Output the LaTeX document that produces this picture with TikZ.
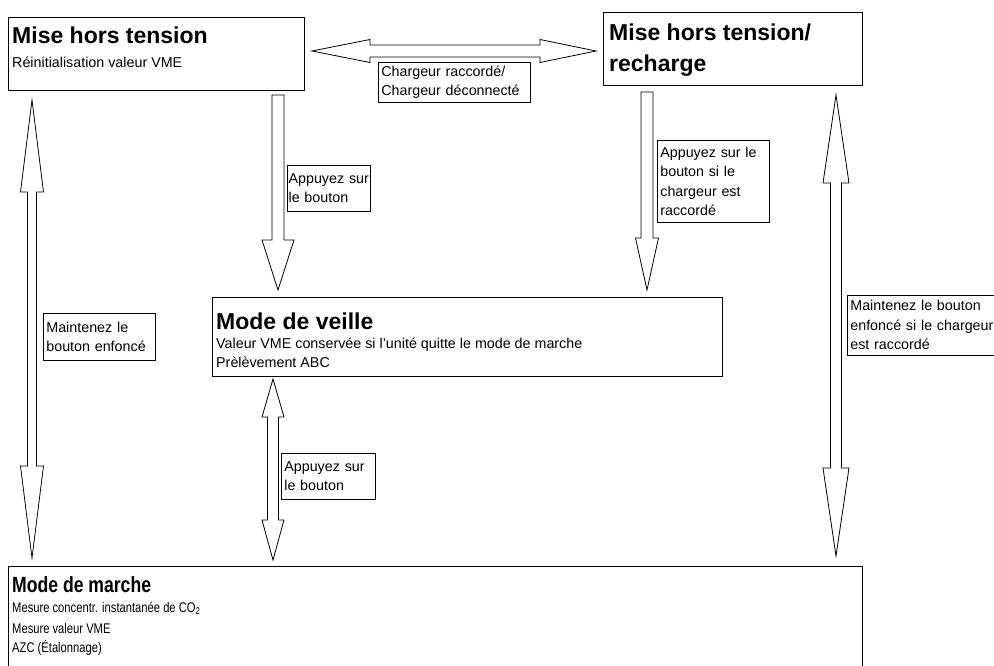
\documentclass[tikz,border=0pt]{standalone}
\usepackage{fontspec}
\setmainfont{Liberation Sans}
\newfontfamily\narrowfont[FakeStretch=0.8]{Liberation Sans}
\usetikzlibrary{calc}

\tikzset{
  statebox/.style={draw=black, line width=1.3pt, fill=white, anchor=north west, inner sep=0pt},
  labelbox/.style={draw=black, line width=0.7pt, fill=white, anchor=north west, align=left,
    inner xsep=3pt, inner ysep=0pt, font=\fontsize{14.3}{19.5}\selectfont},
  titletext/.style={anchor=base west, inner sep=0pt, font=\fontsize{23}{31}\selectfont\bfseries},
  bodytext/.style={anchor=base west, inner sep=0pt, font=\fontsize{14.3}{19.5}\selectfont},
  blockarrow/.style={draw=black, line width=0.8pt, fill=white, line join=miter},
}

\begin{document}
\begin{tikzpicture}[x=1pt, y=-1pt]
	\clip (0,0) rectangle (994,666);

	% Arrow ends
	\coordinate (hold1top) at (32,100);
	\coordinate (hold1bot) at (32,558);
	\coordinate (hold2top) at (836,95);
	\coordinate (hold2bot) at (836,556);
	\coordinate (chgleft) at (312,51);
	\coordinate (chgright) at (596,51);
	\coordinate (press1top) at (278,95);
	\coordinate (press1tip) at (278,290);
	\coordinate (press2top) at (647,92);
	\coordinate (press2tip) at (647,290);
	\coordinate (press3top) at (273,379);
	\coordinate (press3bot) at (273,560);

	% Draw block arrows
	\draw[blockarrow] (hold1top) -- ++(11.5,92) -- ++(-7,0) -- ($(hold1bot)+(4.5,-92)$) -- ++(7,0) -- (hold1bot)
		-- ++(-11.5,-92) -- ++(7,0) -- ($(hold1top)+(-4.5,92)$) -- ++(-7,0) -- cycle;
	\draw[blockarrow] (hold2top) -- ++(13,88) -- ++(-7.5,0) -- ($(hold2bot)+(5.5,-88)$) -- ++(7.5,0) -- (hold2bot)
		-- ++(-13,-88) -- ++(7.5,0) -- ($(hold2top)+(-5.5,88)$) -- ++(-7.5,0) -- cycle;
	\draw[blockarrow] (chgleft) -- ++(58,-11.5) -- ++(0,5.5) -- ($(chgright)+(-56,-6)$) -- ++(0,-5.5) -- (chgright)
		-- ++(-56,11.5) -- ++(0,-5.5) -- ($(chgleft)+(58,6)$) -- ++(0,5.5) -- cycle;
	\draw[blockarrow] ($(press1top)+(-6,0)$) -- ++(12,0) -- ($(press1tip)+(6,-50)$) -- ++(10,0) -- (press1tip)
		-- ++(-16,-50) -- ++(10,0) -- cycle;
	\draw[blockarrow] ($(press2top)+(-6,0)$) -- ++(12,0) -- ($(press2tip)+(6,-52)$) -- ++(5.5,0) -- (press2tip)
		-- ++(-11.5,-52) -- ++(5.5,0) -- cycle;
	\draw[blockarrow] (press3top) -- ++(11,38) -- ++(-5.5,0) -- ($(press3bot)+(5.5,-40)$) -- ++(5.5,0) -- (press3bot)
		-- ++(-11,-40) -- ++(5.5,0) -- ($(press3top)+(-5.5,38)$) -- ++(-5.5,0) -- cycle;

	% Arrow labels
	\node[labelbox, text width=146, minimum height=40] (lblchg) at (378,62) {Chargeur raccordé/\\Chargeur déconnecté};
	\node[labelbox, text width=80.5, inner xsep=1.25pt, minimum height=46] (lblpress1) at (287,165) {Appuyez sur\\le bouton};
	\node[labelbox, text width=106, minimum height=82] (lblpress2) at (657,140) {Appuyez sur le\\bouton si le\\chargeur est\\raccordé};
	\node[labelbox, text width=88, minimum height=46] (lblpress3) at (281,453) {Appuyez sur\\le bouton};
	\node[labelbox, text width=106, minimum height=47] (lblhold1) at (43,313) {Maintenez le\\bouton enfoncé};
	\node[labelbox, text width=160, minimum height=60] (lblhold2) at (847,295) {Maintenez le bouton\\enfoncé si le chargeur\\est raccordé};

	% States
	\node[statebox, minimum width=296, minimum height=73] (off) at (8,17) {};
	\node[titletext] (offtitle) at (12,44) {Mise hors tension};
	\node[bodytext] (offtext) at (12,68) {Réinitialisation valeur VME};

	\node[statebox, minimum width=259, minimum height=73] (offchg) at (603,12) {};
	\node[titletext] (offchgtitle) at (609,41) {Mise hors tension/};
	\node[titletext] (offchgtitleb) at (609,72) {recharge};

	\node[statebox, minimum width=510, minimum height=79] (standby) at (212,297) {};
	\node[titletext] (standbytitle) at (216,329) {Mode de veille};
	\node[bodytext] (standbytext) at (216,348) {Valeur VME conservée si l'unité quitte le mode de marche};
	\node[bodytext] (standbytextb) at (216,367) {Prèlèvement ABC};

	\node[statebox, minimum width=854, minimum height=120] (run) at (8,566) {};
	\node[titletext, font=\fontsize{22}{30}\selectfont\narrowfont\bfseries] (runtitle) at (12,592) {Mode de marche};
	\node[bodytext, font=\fontsize{14}{19}\selectfont\narrowfont] (runtext) at (12,612) {Mesure concentr. instantanée de CO\textsubscript{2}};
	\node[bodytext, font=\fontsize{14}{19}\selectfont\narrowfont] (runtextb) at (12,633) {Mesure valeur VME};
	\node[bodytext, font=\fontsize{14}{19}\selectfont\narrowfont] (runtextc) at (12,652) {AZC (Étalonnage)};
\end{tikzpicture}
\end{document}
